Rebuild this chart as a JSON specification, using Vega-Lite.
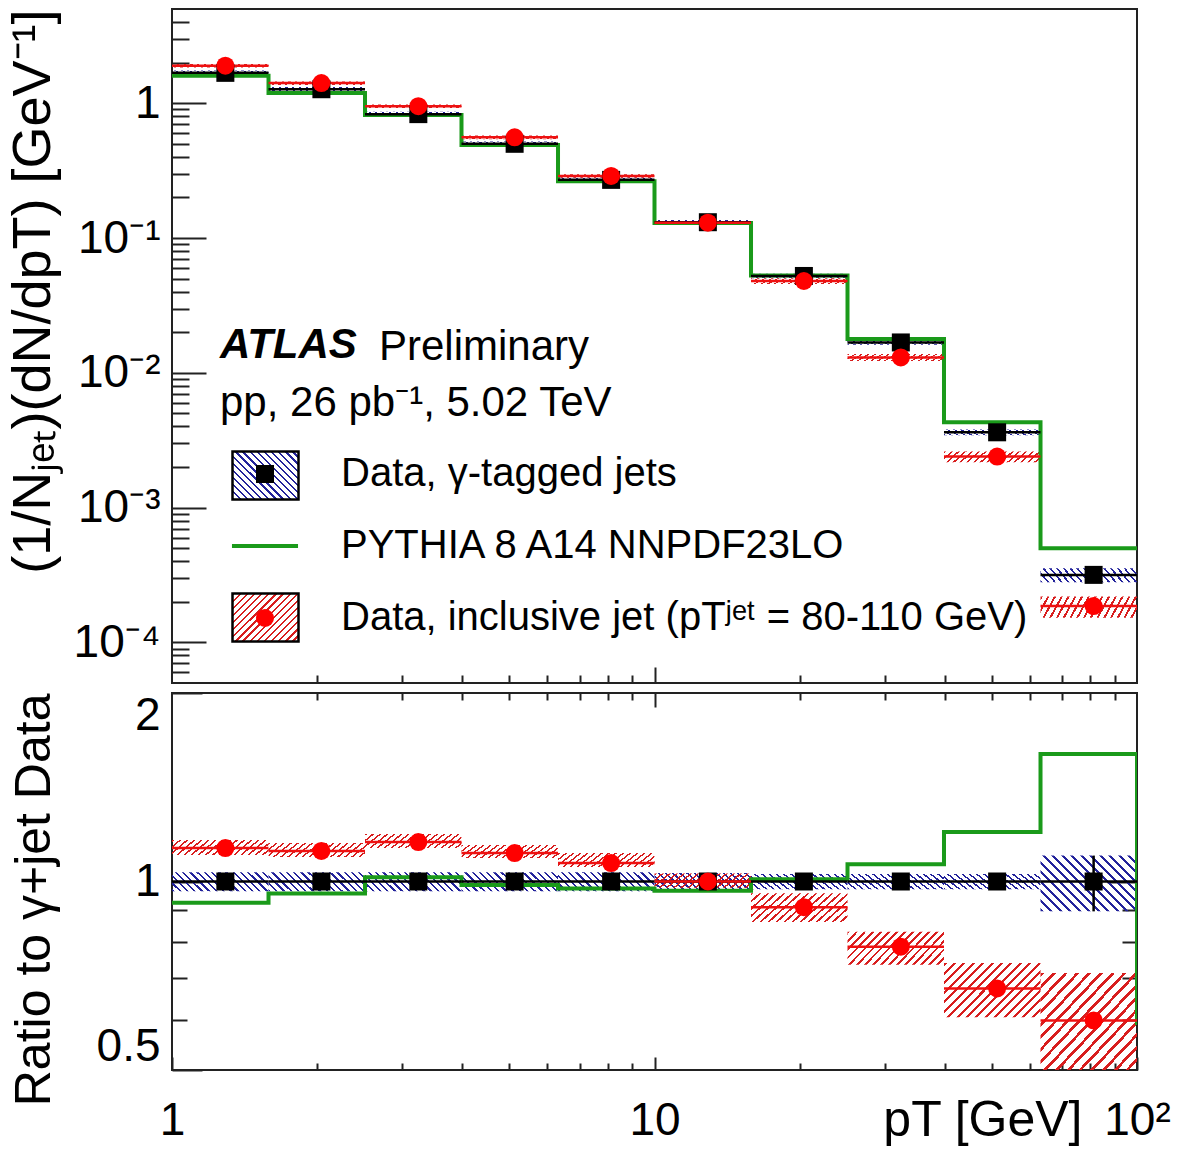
{
  "$schema": "https://vega.github.io/schema/vega-lite/v6.json",
  "padding": {"left": 4, "top": 8, "right": 5, "bottom": 5},
  "params": [
    {"name": "stB", "value": [
      {"offset":0,"color":"#23239b"},{"offset":0.02,"color":"#23239b"},{"offset":0.02,"color":"transparent"},{"offset":0.0625,"color":"transparent"},
      {"offset":0.0625,"color":"#23239b"},{"offset":0.0825,"color":"#23239b"},{"offset":0.0825,"color":"transparent"},{"offset":0.125,"color":"transparent"},
      {"offset":0.125,"color":"#23239b"},{"offset":0.145,"color":"#23239b"},{"offset":0.145,"color":"transparent"},{"offset":0.1875,"color":"transparent"},
      {"offset":0.1875,"color":"#23239b"},{"offset":0.2075,"color":"#23239b"},{"offset":0.2075,"color":"transparent"},{"offset":0.25,"color":"transparent"},
      {"offset":0.25,"color":"#23239b"},{"offset":0.27,"color":"#23239b"},{"offset":0.27,"color":"transparent"},{"offset":0.3125,"color":"transparent"},
      {"offset":0.3125,"color":"#23239b"},{"offset":0.3325,"color":"#23239b"},{"offset":0.3325,"color":"transparent"},{"offset":0.375,"color":"transparent"},
      {"offset":0.375,"color":"#23239b"},{"offset":0.395,"color":"#23239b"},{"offset":0.395,"color":"transparent"},{"offset":0.4375,"color":"transparent"},
      {"offset":0.4375,"color":"#23239b"},{"offset":0.4575,"color":"#23239b"},{"offset":0.4575,"color":"transparent"},{"offset":0.5,"color":"transparent"},
      {"offset":0.5,"color":"#23239b"},{"offset":0.52,"color":"#23239b"},{"offset":0.52,"color":"transparent"},{"offset":0.5625,"color":"transparent"},
      {"offset":0.5625,"color":"#23239b"},{"offset":0.5825,"color":"#23239b"},{"offset":0.5825,"color":"transparent"},{"offset":0.625,"color":"transparent"},
      {"offset":0.625,"color":"#23239b"},{"offset":0.645,"color":"#23239b"},{"offset":0.645,"color":"transparent"},{"offset":0.6875,"color":"transparent"},
      {"offset":0.6875,"color":"#23239b"},{"offset":0.7075,"color":"#23239b"},{"offset":0.7075,"color":"transparent"},{"offset":0.75,"color":"transparent"},
      {"offset":0.75,"color":"#23239b"},{"offset":0.77,"color":"#23239b"},{"offset":0.77,"color":"transparent"},{"offset":0.8125,"color":"transparent"},
      {"offset":0.8125,"color":"#23239b"},{"offset":0.8325,"color":"#23239b"},{"offset":0.8325,"color":"transparent"},{"offset":0.875,"color":"transparent"},
      {"offset":0.875,"color":"#23239b"},{"offset":0.895,"color":"#23239b"},{"offset":0.895,"color":"transparent"},{"offset":0.9375,"color":"transparent"},
      {"offset":0.9375,"color":"#23239b"},{"offset":0.9575,"color":"#23239b"},{"offset":0.9575,"color":"transparent"},{"offset":1,"color":"transparent"}
    ]},
    {"name": "stR", "value": [
      {"offset":0,"color":"#d81e1e"},{"offset":0.02,"color":"#d81e1e"},{"offset":0.02,"color":"transparent"},{"offset":0.0625,"color":"transparent"},
      {"offset":0.0625,"color":"#d81e1e"},{"offset":0.0825,"color":"#d81e1e"},{"offset":0.0825,"color":"transparent"},{"offset":0.125,"color":"transparent"},
      {"offset":0.125,"color":"#d81e1e"},{"offset":0.145,"color":"#d81e1e"},{"offset":0.145,"color":"transparent"},{"offset":0.1875,"color":"transparent"},
      {"offset":0.1875,"color":"#d81e1e"},{"offset":0.2075,"color":"#d81e1e"},{"offset":0.2075,"color":"transparent"},{"offset":0.25,"color":"transparent"},
      {"offset":0.25,"color":"#d81e1e"},{"offset":0.27,"color":"#d81e1e"},{"offset":0.27,"color":"transparent"},{"offset":0.3125,"color":"transparent"},
      {"offset":0.3125,"color":"#d81e1e"},{"offset":0.3325,"color":"#d81e1e"},{"offset":0.3325,"color":"transparent"},{"offset":0.375,"color":"transparent"},
      {"offset":0.375,"color":"#d81e1e"},{"offset":0.395,"color":"#d81e1e"},{"offset":0.395,"color":"transparent"},{"offset":0.4375,"color":"transparent"},
      {"offset":0.4375,"color":"#d81e1e"},{"offset":0.4575,"color":"#d81e1e"},{"offset":0.4575,"color":"transparent"},{"offset":0.5,"color":"transparent"},
      {"offset":0.5,"color":"#d81e1e"},{"offset":0.52,"color":"#d81e1e"},{"offset":0.52,"color":"transparent"},{"offset":0.5625,"color":"transparent"},
      {"offset":0.5625,"color":"#d81e1e"},{"offset":0.5825,"color":"#d81e1e"},{"offset":0.5825,"color":"transparent"},{"offset":0.625,"color":"transparent"},
      {"offset":0.625,"color":"#d81e1e"},{"offset":0.645,"color":"#d81e1e"},{"offset":0.645,"color":"transparent"},{"offset":0.6875,"color":"transparent"},
      {"offset":0.6875,"color":"#d81e1e"},{"offset":0.7075,"color":"#d81e1e"},{"offset":0.7075,"color":"transparent"},{"offset":0.75,"color":"transparent"},
      {"offset":0.75,"color":"#d81e1e"},{"offset":0.77,"color":"#d81e1e"},{"offset":0.77,"color":"transparent"},{"offset":0.8125,"color":"transparent"},
      {"offset":0.8125,"color":"#d81e1e"},{"offset":0.8325,"color":"#d81e1e"},{"offset":0.8325,"color":"transparent"},{"offset":0.875,"color":"transparent"},
      {"offset":0.875,"color":"#d81e1e"},{"offset":0.895,"color":"#d81e1e"},{"offset":0.895,"color":"transparent"},{"offset":0.9375,"color":"transparent"},
      {"offset":0.9375,"color":"#d81e1e"},{"offset":0.9575,"color":"#d81e1e"},{"offset":0.9575,"color":"transparent"},{"offset":1,"color":"transparent"}
    ]},
    {"name": "gTB", "expr": "{gradient:'linear',x1:0,y1:1,x2:1.1041,y2:0.8675,stops:stB}"},
    {"name": "gTR", "expr": "{gradient:'linear',x1:0,y1:0,x2:1.1041,y2:0.1325,stops:stR}"},
    {"name": "gB2", "expr": "{gradient:'linear',x1:0,y1:1,x2:1.1538,y2:0.7692,stops:stB}"},
    {"name": "gB3", "expr": "{gradient:'linear',x1:0,y1:1,x2:1.1823,y2:0.3143,stops:stB}"},
    {"name": "gR2", "expr": "{gradient:'linear',x1:0,y1:0,x2:1.143,y2:0.2057,stops:stR}"},
    {"name": "gR3", "expr": "{gradient:'linear',x1:0,y1:0,x2:1.1994,y2:0.3958,stops:stR}"},
    {"name": "gR4", "expr": "{gradient:'linear',x1:0,y1:0,x2:1.1876,y2:0.665,stops:stR}"},
    {"name": "gR5", "expr": "{gradient:'linear',x1:0,y1:0,x2:1.025,y2:0.9737,stops:stR}"},
    {"name": "gLB", "expr": "{gradient:'linear',x1:0,y1:1,x2:1.1286,y2:0.1761,stops:stB}"},
    {"name": "gLR", "expr": "{gradient:'linear',x1:0,y1:0,x2:1.1286,y2:0.8239,stops:stR}"}
  ],
  "title": {"text": "Preliminary", "orient": "top", "anchor": "start", "frame": "group", "offset": -150, "dx": 207, "dy": 244, "baseline": "alphabetic", "fontSize": 42, "fontWeight": "normal", "font": "Liberation Sans", "color": "black"},
  "datasets": {
    "top": [
      {"series":"gamma","lo":1,"hi":1.585,"x":1.29,"y":1.68,"ylo":1.613,"yhi":1.747},
      {"series":"gamma","lo":1.585,"hi":2.512,"x":2.04,"y":1.27,"ylo":1.219,"yhi":1.321},
      {"series":"gamma","lo":2.512,"hi":3.981,"x":3.24,"y":0.83,"ylo":0.797,"yhi":0.863},
      {"series":"gamma","lo":3.981,"hi":6.31,"x":5.13,"y":0.5,"ylo":0.48,"yhi":0.52},
      {"series":"gamma","lo":6.31,"hi":10,"x":8.13,"y":0.27,"ylo":0.259,"yhi":0.281},
      {"series":"gamma","lo":10,"hi":15.85,"x":12.9,"y":0.131,"ylo":0.1258,"yhi":0.1362},
      {"series":"gamma","lo":15.85,"hi":25.12,"x":20.4,"y":0.0523,"ylo":0.0502,"yhi":0.0544},
      {"series":"gamma","lo":25.12,"hi":39.81,"x":32.4,"y":0.0168,"ylo":0.01613,"yhi":0.01747},
      {"series":"gamma","lo":39.81,"hi":63.1,"x":51.3,"y":0.00362,"ylo":0.00344,"yhi":0.0038},
      {"series":"gamma","lo":63.1,"hi":100,"x":81.3,"y":0.000317,"ylo":0.000279,"yhi":0.000355},
      {"series":"inclusive","lo":1,"hi":1.585,"x":1.29,"y":1.9,"ylo":1.843,"yhi":1.957},
      {"series":"inclusive","lo":1.585,"hi":2.512,"x":2.04,"y":1.41,"ylo":1.368,"yhi":1.452},
      {"series":"inclusive","lo":2.512,"hi":3.981,"x":3.24,"y":0.95,"ylo":0.9215,"yhi":0.9785},
      {"series":"inclusive","lo":3.981,"hi":6.31,"x":5.13,"y":0.558,"ylo":0.541,"yhi":0.575},
      {"series":"inclusive","lo":6.31,"hi":10,"x":8.13,"y":0.289,"ylo":0.2803,"yhi":0.2977},
      {"series":"inclusive","lo":10,"hi":15.85,"x":12.9,"y":0.13,"ylo":0.1261,"yhi":0.1339},
      {"series":"inclusive","lo":15.85,"hi":25.12,"x":20.4,"y":0.048,"ylo":0.0456,"yhi":0.0504},
      {"series":"inclusive","lo":25.12,"hi":39.81,"x":32.4,"y":0.013,"ylo":0.01222,"yhi":0.01378},
      {"series":"inclusive","lo":39.81,"hi":63.1,"x":51.3,"y":0.00239,"ylo":0.002175,"yhi":0.002605},
      {"series":"inclusive","lo":63.1,"hi":100,"x":81.3,"y":0.000186,"ylo":0.0001525,"yhi":0.0002195}
    ],
    "topline": [
      {"i":0,"x":1,"y":1.6},{"i":1,"x":1.585,"y":1.19},{"i":2,"x":2.512,"y":0.818},{"i":3,"x":3.981,"y":0.49},
      {"i":4,"x":6.31,"y":0.264},{"i":5,"x":10,"y":0.129},{"i":6,"x":15.85,"y":0.0528},{"i":7,"x":25.12,"y":0.0178},
      {"i":8,"x":39.81,"y":0.0043},{"i":9,"x":63.1,"y":0.0005},{"i":10,"x":100,"y":0.0005}
    ],
    "bot": [
      {"series":"gamma","lo":1,"hi":1.585,"x":1.29,"r":1,"rlo":0.965,"rhi":1.035},
      {"series":"gamma","lo":1.585,"hi":2.512,"x":2.04,"r":1,"rlo":0.965,"rhi":1.035},
      {"series":"gamma","lo":2.512,"hi":3.981,"x":3.24,"r":1,"rlo":0.965,"rhi":1.035},
      {"series":"gamma","lo":3.981,"hi":6.31,"x":5.13,"r":1,"rlo":0.965,"rhi":1.035},
      {"series":"gamma","lo":6.31,"hi":10,"x":8.13,"r":1,"rlo":0.965,"rhi":1.035},
      {"series":"gamma","lo":10,"hi":15.85,"x":12.9,"r":1,"rlo":0.968,"rhi":1.032},
      {"series":"gamma","lo":15.85,"hi":25.12,"x":20.4,"r":1,"rlo":0.972,"rhi":1.028},
      {"series":"gamma","lo":25.12,"hi":39.81,"x":32.4,"r":1,"rlo":0.972,"rhi":1.028},
      {"series":"gamma","lo":39.81,"hi":63.1,"x":51.3,"r":1,"rlo":0.972,"rhi":1.028},
      {"series":"gamma","lo":63.1,"hi":100,"x":81.3,"r":1,"rlo":0.896,"rhi":1.1},
      {"series":"inclusive","lo":1,"hi":1.585,"x":1.29,"r":1.131,"rlo":1.102,"rhi":1.165},
      {"series":"inclusive","lo":1.585,"hi":2.512,"x":2.04,"r":1.119,"rlo":1.094,"rhi":1.152},
      {"series":"inclusive","lo":2.512,"hi":3.981,"x":3.24,"r":1.156,"rlo":1.131,"rhi":1.191},
      {"series":"inclusive","lo":3.981,"hi":6.31,"x":5.13,"r":1.11,"rlo":1.09,"rhi":1.144},
      {"series":"inclusive","lo":6.31,"hi":10,"x":8.13,"r":1.07,"rlo":1.055,"rhi":1.11},
      {"series":"inclusive","lo":10,"hi":15.85,"x":12.9,"r":1,"rlo":0.977,"rhi":1.03},
      {"series":"inclusive","lo":15.85,"hi":25.12,"x":20.4,"r":0.91,"rlo":0.862,"rhi":0.958},
      {"series":"inclusive","lo":25.12,"hi":39.81,"x":32.4,"r":0.787,"rlo":0.736,"rhi":0.831},
      {"series":"inclusive","lo":39.81,"hi":63.1,"x":51.3,"r":0.675,"rlo":0.607,"rhi":0.741},
      {"series":"inclusive","lo":63.1,"hi":100,"x":81.3,"r":0.6,"rlo":0.5,"rhi":0.714}
    ],
    "botline": [
      {"i":0,"x":1,"y":0.925},{"i":1,"x":1.585,"y":0.957},{"i":2,"x":2.512,"y":1.016},{"i":3,"x":3.981,"y":0.987},
      {"i":4,"x":6.31,"y":0.975},{"i":5,"x":10,"y":0.967},{"i":6,"x":15.85,"y":1.008},{"i":7,"x":25.12,"y":1.065},
      {"i":8,"x":39.81,"y":1.2},{"i":9,"x":63.1,"y":1.598},{"i":10,"x":100,"y":1.598},{"i":11,"x":100,"y":0.59}
    ],
    "vbar": [{"x":81.3,"lo":0.896,"hi":1.1}]
  },
  "spacing": 6,
  "vconcat": [
    {
      "width": 965,
      "height": 674,
      "title": {"text": "ATLAS", "subtitle": "pp, 26 pb⁻¹, 5.02 TeV", "orient": "top", "anchor": "start", "frame": "group", "offset": -150, "dx": 48, "dy": 299, "baseline": "alphabetic", "font": "Liberation Sans", "fontSize": 42, "fontWeight": "bold", "fontStyle": "italic", "color": "black", "subtitleFont": "Liberation Sans", "subtitleFontSize": 42, "subtitleColor": "black", "subtitlePadding": 16},
      "layer": [
        {
          "data": {"name": "top"},
          "mark": {"type": "rect", "clip": true},
          "encoding": {
            "x": {"field": "lo", "type": "quantitative", "scale": {"type": "log", "domain": [1, 100], "nice": false},
              "axis": {"orient": "bottom", "values": [2,3,4,5,6,7,8,9,10,20,30,40,50,60,70,80,90], "labels": false, "title": null,
                "tickSize": {"condition": {"test": "datum.value === 10", "value": -16}, "value": -8}}},
            "x2": {"field": "hi"},
            "y": {"field": "ylo", "type": "quantitative", "scale": {"type": "log", "domain": [0.00005, 5], "nice": false},
              "axis": {"orient": "left",
                "values": [0.00006,0.00007,0.00008,0.00009,0.0001,0.0002,0.0003,0.0004,0.0005,0.0006,0.0007,0.0008,0.0009,0.001,0.002,0.003,0.004,0.005,0.006,0.007,0.008,0.009,0.01,0.02,0.03,0.04,0.05,0.06,0.07,0.08,0.09,0.1,0.2,0.3,0.4,0.5,0.6,0.7,0.8,0.9,1,2,3,4],
                "labelExpr": "datum.value === 1 ? '1' : datum.value === 0.1 ? '10⁻¹' : datum.value === 0.01 ? '10⁻²' : datum.value === 0.001 ? '10⁻³' : datum.value === 0.0001 ? '10⁻⁴' : ''",
                "labelFontSize": {"condition": {"test": "datum.value === 1 || datum.value === 0.1 || datum.value === 0.01 || datum.value === 0.001 || datum.value === 0.0001", "value": 46}, "value": 0},
                "tickSize": {"condition": {"test": "datum.value === 1 || datum.value === 0.1 || datum.value === 0.01 || datum.value === 0.001 || datum.value === 0.0001", "value": -34}, "value": -17},
                "labelPadding": 46,
                "title": "(1/Nⱼₑₜ)(dN/dpT) [GeV⁻¹]", "titleFontSize": 54, "titleAnchor": "end", "titleX": -112, "titleBaseline": "bottom"}},
            "y2": {"field": "yhi"},
            "fill": {"condition": {"test": "datum.series === 'gamma'", "value": {"expr": "gTB"}}, "value": {"expr": "gTR"}}
          }
        },
        {
          "data": {"name": "topline"},
          "mark": {"type": "line", "interpolate": "step-after", "color": "#1a9a1a", "strokeWidth": 4, "clip": true},
          "encoding": {
            "x": {"field": "x", "type": "quantitative", "scale": {"type": "log", "domain": [1, 100], "nice": false}},
            "y": {"field": "y", "type": "quantitative", "scale": {"type": "log", "domain": [0.00005, 5], "nice": false}},
            "order": {"field": "i", "type": "quantitative"}
          }
        },
        {
          "data": {"name": "top"},
          "mark": {"type": "rule", "strokeWidth": 2.5, "clip": true},
          "encoding": {
            "x": {"field": "lo", "type": "quantitative", "scale": {"type": "log", "domain": [1, 100], "nice": false}},
            "x2": {"field": "hi"},
            "y": {"field": "y", "type": "quantitative", "scale": {"type": "log", "domain": [0.00005, 5], "nice": false}},
            "color": {"condition": {"test": "datum.series === 'gamma'", "value": "black"}, "value": "#ee1111"},
            "opacity": {"field": "series", "type": "ordinal",
              "scale": {"domain": {"expr": "['gamma', 'pythia', 'inclusive']"}, "range": [1, 1, 1]},
              "legend": {"orient": "none", "legendX": 68, "legendY": 441, "title": null, "padding": 0,
                "labelFontSize": 40, "labelLimit": 0, "labelOffset": 0,
                "symbolType": "M-1.375,-1H1.375V1H-1.375Z", "symbolSize": 2304, "rowPadding": 12,
                "labelExpr": "''",
                "symbolFillColor": {"expr": "datum.value === 'gamma' ? gLB : datum.value === 'inclusive' ? gLR : 'transparent'"},
                "symbolStrokeColor": {"expr": "datum.value === 'pythia' ? 'transparent' : 'black'"},
                "symbolStrokeWidth": 2.5,
                "symbolOpacity": 1}}
          }
        },
        {
          "data": {"name": "top"},
          "mark": {"type": "point", "filled": true, "opacity": 1, "size": 324, "clip": true},
          "encoding": {
            "x": {"field": "x", "type": "quantitative", "scale": {"type": "log", "domain": [1, 100], "nice": false}},
            "y": {"field": "y", "type": "quantitative", "scale": {"type": "log", "domain": [0.00005, 5], "nice": false}},
            "color": {"field": "series", "type": "nominal",
              "scale": {"domain": ["gamma", "pythia", "inclusive"], "range": ["black", "#1a9a1a", "#ff0000"]},
              "legend": {"orient": "none", "legendX": 73, "legendY": 445, "title": null, "padding": 0,
                "labelFontSize": 40, "labelFont": "Liberation Sans", "labelColor": "black", "labelLimit": 0, "labelOffset": 56,
                "symbolSize": 324, "rowPadding": 32,
                "labelExpr": "datum.value === 'gamma' ? 'Data, γ-tagged jets' : datum.value === 'pythia' ? 'PYTHIA 8 A14 NNPDF23LO' : 'Data, inclusive jet (pTʲᵉᵗ = 80-110 GeV)'",
                "symbolStrokeColor": {"expr": "datum.value === 'pythia' ? '#1a9a1a' : 'transparent'"},
                "symbolStrokeWidth": 4}},
            "shape": {"field": "series", "type": "nominal",
              "scale": {"domain": ["gamma", "pythia", "inclusive"], "range": ["square", "M-3.67,0H3.67", "circle"]}}
          }
        }
      ]
    },
    {
      "width": 965,
      "height": 377,
      "resolve": {"axis": {"x": "independent", "y": "independent"}},
      "layer": [
        {
          "data": {"name": "bot"},
          "mark": {"type": "rect", "clip": true},
          "encoding": {
            "x": {"field": "lo", "type": "quantitative", "scale": {"type": "log", "domain": [1, 100], "nice": false},
              "axis": {"orient": "bottom", "values": [1,2,3,4,5,6,7,8,9,10,20,30,40,50,60,70,80,90,100],
                "labelExpr": "datum.value === 1 ? '1' : datum.value === 10 ? '10' : datum.value === 100 ? '10²' : ''",
                "labelFontSize": {"condition": {"test": "datum.value === 1 || datum.value === 10 || datum.value === 100", "value": 46}, "value": 0},
                "tickSize": {"condition": {"test": "datum.value === 1 || datum.value === 10 || datum.value === 100", "value": -13}, "value": -7},
                "labelPadding": 41, "labelFlush": false,
                "title": "pT [GeV]", "titleX": 910, "titleY": 65, "titleAlign": "right", "titleBaseline": "alphabetic"}},
            "x2": {"field": "hi"},
            "y": {"field": "rlo", "type": "quantitative", "scale": {"type": "log", "domain": [0.5, 2], "nice": false},
              "axis": {"orient": "left", "values": [0.5,0.6,0.7,0.8,0.9,1,2],
                "labelExpr": "datum.value === 0.5 ? '0.5' : datum.value === 1 ? '1' : datum.value === 2 ? '2' : ''",
                "labelFontSize": {"condition": {"test": "datum.value === 0.5 || datum.value === 1 || datum.value === 2", "value": 46}, "value": 0},
                "tickSize": {"condition": {"test": "datum.value === 0.5 || datum.value === 1 || datum.value === 2", "value": -30}, "value": -15},
                "labelPadding": 42, "labelFlush": true,
                "title": "Ratio to γ+jet Data", "titleAnchor": "end", "titleX": -113, "titleBaseline": "bottom"}},
            "y2": {"field": "rhi"},
            "fill": {"condition": [
              {"test": "datum.series === 'gamma' && datum.rhi / datum.rlo > 1.14", "value": {"expr": "gB3"}},
              {"test": "datum.series === 'gamma'", "value": {"expr": "gB2"}},
              {"test": "datum.rhi / datum.rlo > 1.318", "value": {"expr": "gR5"}},
              {"test": "datum.rhi / datum.rlo > 1.18", "value": {"expr": "gR4"}},
              {"test": "datum.rhi / datum.rlo > 1.092", "value": {"expr": "gR3"}}
            ], "value": {"expr": "gR2"}}
          }
        },
        {
          "data": {"name": "botline"},
          "mark": {"type": "line", "interpolate": "step-after", "color": "#1a9a1a", "strokeWidth": 4, "clip": true},
          "encoding": {
            "x": {"field": "x", "type": "quantitative", "scale": {"type": "log", "domain": [1, 100], "nice": false},
              "axis": {"orient": "top", "values": [2,3,4,5,6,7,8,9,10,20,30,40,50,60,70,80,90], "labels": false, "title": null,
                "tickSize": {"condition": {"test": "datum.value === 10", "value": -14}, "value": -7}}},
            "y": {"field": "y", "type": "quantitative", "scale": {"type": "log", "domain": [0.5, 2], "nice": false},
              "axis": {"orient": "right", "values": [0.6,0.7,0.8,0.9,1], "labels": false, "title": null,
                "tickSize": {"condition": {"test": "datum.value === 1", "value": -30}, "value": -15}}},
            "order": {"field": "i", "type": "quantitative"}
          }
        },
        {
          "data": {"name": "bot"},
          "mark": {"type": "rule", "strokeWidth": 2.5, "clip": true},
          "encoding": {
            "x": {"field": "lo", "type": "quantitative", "scale": {"type": "log", "domain": [1, 100], "nice": false}, "axis": null},
            "x2": {"field": "hi"},
            "y": {"field": "r", "type": "quantitative", "scale": {"type": "log", "domain": [0.5, 2], "nice": false}, "axis": null},
            "color": {"condition": {"test": "datum.series === 'gamma'", "value": "black"}, "value": "#ee1111"}
          }
        },
        {
          "data": {"name": "vbar"},
          "mark": {"type": "rule", "strokeWidth": 2.5, "color": "black", "clip": true},
          "encoding": {
            "x": {"field": "x", "type": "quantitative", "scale": {"type": "log", "domain": [1, 100], "nice": false}, "axis": null},
            "y": {"field": "lo", "type": "quantitative", "scale": {"type": "log", "domain": [0.5, 2], "nice": false}, "axis": null},
            "y2": {"field": "hi"}
          }
        },
        {
          "data": {"name": "bot"},
          "mark": {"type": "point", "filled": true, "opacity": 1, "size": 324, "clip": true},
          "encoding": {
            "x": {"field": "x", "type": "quantitative", "scale": {"type": "log", "domain": [1, 100], "nice": false}, "axis": null},
            "y": {"field": "r", "type": "quantitative", "scale": {"type": "log", "domain": [0.5, 2], "nice": false}, "axis": null},
            "color": {"field": "series", "type": "nominal", "scale": {"domain": ["gamma", "inclusive"], "range": ["black", "#ff0000"]}, "legend": null},
            "shape": {"field": "series", "type": "nominal", "scale": {"domain": ["gamma", "inclusive"], "range": ["square", "circle"]}, "legend": null}
          }
        }
      ]
    }
  ],
  "config": {
    "font": "Liberation Sans",
    "view": {"stroke": "#222222", "strokeWidth": 2},
    "axis": {"domain": false, "grid": false, "tickColor": "#222222", "tickWidth": 2,
      "labelFont": "Liberation Sans", "labelFontSize": 46, "labelColor": "black",
      "titleFont": "Liberation Sans", "titleFontSize": 50, "titleFontWeight": "normal", "titleColor": "black",
      "labelOverlap": false, "labelBound": false},
    "legend": {"labelFont": "Liberation Sans"},
    "title": {"font": "Liberation Sans", "color": "black"}
  }
}
